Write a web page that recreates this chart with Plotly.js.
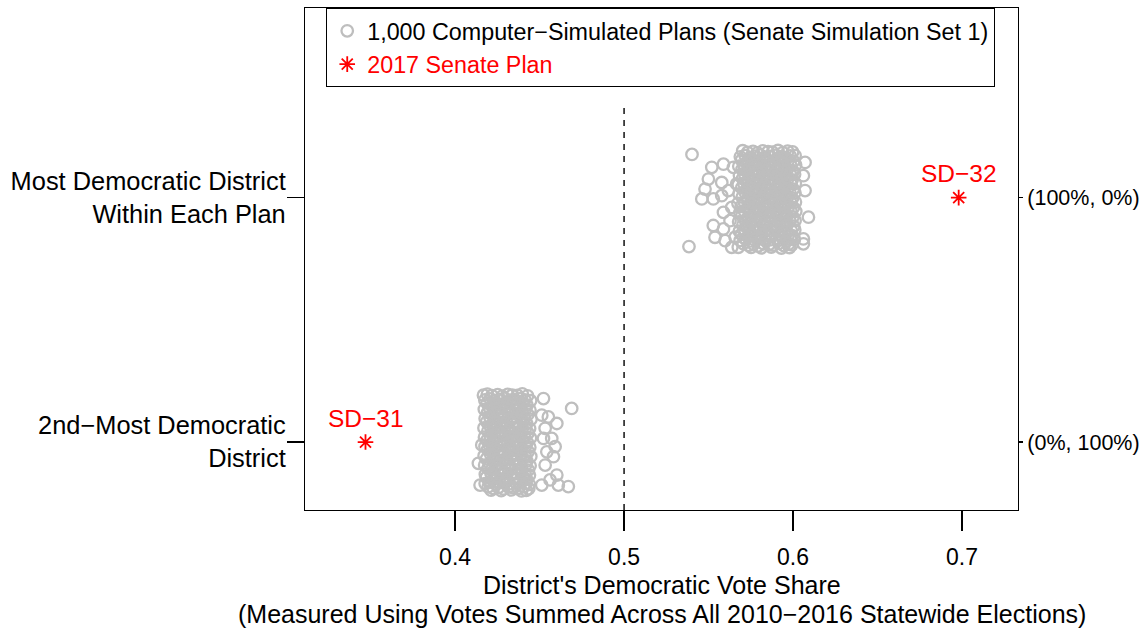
<!DOCTYPE html>
<html>
<head>
<meta charset="utf-8">
<script src="https://cdn.plot.ly/plotly-3.0.1.min.js"></script>
<style>html,body{margin:0;padding:0;background:#fff;}#chart{width:1145px;height:633px;}</style>
</head>
<body>
<div id="chart"></div>
<script>
// ---- Data ----
// Tick values / labels
const xTicks = [0.4, 0.5, 0.6, 0.7];
const categoryPos = [1, 2];
const categoryLabels = ['2nd\u2212Most Democratic<br>District', 'Most Democratic District<br>Within Each Plan'];
const seatLabels = ['(0%, 100%)', '(100%, 0%)'];

// 2017 Senate plan
const planShare = [0.698, 0.347];
const planPos = [2, 1];
const planLabels = ['SD\u221232', 'SD\u221231'];

// Simulated plans: most Democratic district (vote share, jittered vertical position)
const mostDemShare = [
.5702,.5731,.5763,.5789,.5821,.5852,.5878,.5911,.5939,.5968,.5997,
.5688,.5716,.5748,.5777,.5806,.5836,.5865,.5893,.5925,.5954,.5983,.6012,
.5695,.5729,.5758,.5791,.5818,.5849,.5881,.5907,.5936,.5971,.6003,
.5679,.5711,.5744,.5772,.5803,.5833,.5861,.5896,.5922,.5951,.5986,.6015,
.5698,.5726,.5761,.5786,.5815,.5846,.5874,.5909,.5941,.5965,.5998,
.5683,.5714,.5741,.5775,.5801,.5838,.5866,.5891,.5927,.5956,.5984,.6009,
.5701,.5733,.5759,.5788,.5823,.5851,.5879,.5912,.5938,.5967,.5995,
.5676,.5709,.5746,.5771,.5807,.5832,.5863,.5897,.5924,.5953,.5987,.6013,
.5696,.5727,.5762,.5792,.5816,.5848,.5876,.5906,.5942,.5969,.6001,
.5681,.5717,.5743,.5776,.5804,.5835,.5868,.5894,.5921,.5958,.5982,.6011,
.5699,.5732,.5757,.5787,.5824,.5853,.5877,.5913,.5937,.5966,.5996,
.5674,.5712,.5745,.5773,.5802,.5839,.5864,.5892,.5928,.5955,.5985,.6014,
.5693,.5728,.5764,.5789,.5817,.5847,.5882,.5908,.5935,.5972,.6002,
.5685,.5713,.5742,.5778,.5808,.5834,.5862,.5898,.5926,.5952,.5988,.6016,
.5697,.5734,.5756,.5793,.5819,.5854,.5875,.5905,.5943,.5964,.5999,
.5678,.5718,.5747,.5774,.5805,.5837,.5869,.5895,.5923,.5957,.5981,.6012,
.5703,.5725,.5765,.5785,.5825,.5844,.5883,.5904,.5944,.5963,.6004,
.5682,.5715,.5740,.5779,.5809,.5831,.5867,.5899,.5929,.5951,.5989,.6010,
.5694,.5735,.5755,.5794,.5814,.5855,.5873,.5914,.5934,.5973,.5994,
.5687,.5719,.5749,.5771,.5811,.5836,.5861,.5901,.5921,.5959,.5986,.6008,
.5705,.5736,.5766,.5795,.5826,.5857,.5884,.5916,.5946,.5974,.5993,
.5752,.5812,.5871,.5931,.5979,
.5402,.5384,
.5519,.5588,.5647,.5499,.5578,.5479,.5460,.5528,.5578,.5617,.5637,.5588,.5627,.5528,.5588,.5538,.5598,.5637,.5666,.5657,.5676,
.6091,.6061,.6071,.6061,.6071,.6061
];
const mostDemJitter = [
2.192,2.185,2.189,2.183,2.191,2.188,2.186,2.193,2.184,2.190,2.187,
2.167,2.172,2.165,2.170,2.174,2.166,2.169,2.173,2.168,2.164,2.171,2.172,
2.154,2.147,2.151,2.145,2.153,2.150,2.148,2.155,2.146,2.152,2.149,
2.129,2.134,2.127,2.132,2.136,2.128,2.131,2.135,2.130,2.126,2.133,2.134,
2.116,2.109,2.113,2.107,2.115,2.112,2.110,2.117,2.108,2.114,2.111,
2.091,2.096,2.089,2.094,2.098,2.090,2.093,2.097,2.092,2.088,2.095,2.096,
2.078,2.071,2.075,2.069,2.077,2.074,2.072,2.079,2.070,2.076,2.073,
2.053,2.058,2.051,2.056,2.060,2.052,2.055,2.059,2.054,2.050,2.057,2.058,
2.040,2.033,2.037,2.031,2.039,2.036,2.034,2.041,2.032,2.038,2.035,
2.015,2.020,2.013,2.018,2.022,2.014,2.017,2.021,2.016,2.012,2.019,2.020,
2.002,1.995,1.999,1.993,2.001,1.998,1.996,2.003,1.994,2.000,1.997,
1.977,1.982,1.975,1.980,1.984,1.976,1.979,1.983,1.978,1.974,1.981,1.982,
1.964,1.957,1.961,1.955,1.963,1.960,1.958,1.965,1.956,1.962,1.959,
1.939,1.944,1.937,1.942,1.946,1.938,1.941,1.945,1.940,1.936,1.943,1.944,
1.926,1.919,1.923,1.917,1.925,1.922,1.920,1.927,1.918,1.924,1.921,
1.901,1.906,1.899,1.904,1.908,1.900,1.903,1.907,1.902,1.898,1.905,1.906,
1.888,1.881,1.885,1.879,1.887,1.884,1.882,1.889,1.880,1.886,1.883,
1.863,1.868,1.861,1.866,1.870,1.862,1.865,1.869,1.864,1.860,1.867,1.868,
1.850,1.843,1.847,1.841,1.849,1.846,1.844,1.851,1.842,1.848,1.845,
1.825,1.830,1.823,1.828,1.832,1.824,1.827,1.831,1.826,1.822,1.829,1.830,
1.812,1.805,1.809,1.803,1.811,1.808,1.806,1.813,1.804,1.810,1.807,
1.797,1.795,1.798,1.794,1.796,
2.177,1.800,
2.124,2.137,2.124,2.076,2.062,2.035,1.995,1.995,2.008,2.029,1.960,1.940,1.906,1.886,1.872,1.838,1.824,1.797,2.056,1.838,1.797,
1.920,1.831,2.144,2.090,2.029,1.811
];

// Simulated plans: 2nd-most Democratic district
const secondDemShare = [
.4191,.4218,.4252,.4279,.4311,.4338,.4369,.4398,.4429,
.4176,.4207,.4233,.4266,.4293,.4327,.4354,.4386,.4413,.4447,
.4189,.4221,.4248,.4282,.4308,.4341,.4367,.4401,.4426,
.4173,.4204,.4237,.4263,.4297,.4323,.4358,.4383,.4416,.4443,
.4193,.4219,.4251,.4277,.4313,.4336,.4371,.4397,.4431,
.4178,.4206,.4236,.4268,.4291,.4328,.4352,.4388,.4411,.4449,
.4187,.4223,.4246,.4283,.4306,.4342,.4366,.4403,.4424,
.4171,.4209,.4232,.4267,.4296,.4321,.4357,.4381,.4418,.4441,
.4194,.4217,.4253,.4276,.4312,.4337,.4372,.4396,.4432,
.4174,.4208,.4238,.4264,.4298,.4326,.4353,.4387,.4412,.4446,
.4188,.4222,.4249,.4281,.4309,.4343,.4368,.4399,.4427,
.4177,.4203,.4234,.4269,.4292,.4324,.4359,.4384,.4417,.4442,
.4192,.4216,.4254,.4278,.4314,.4335,.4373,.4395,.4433,
.4172,.4211,.4231,.4265,.4294,.4329,.4351,.4389,.4414,.4448,
.4186,.4224,.4247,.4284,.4307,.4344,.4364,.4402,.4425,
.4175,.4205,.4239,.4262,.4299,.4322,.4356,.4382,.4419,.4444,
.4195,.4215,.4255,.4275,.4315,.4334,.4374,.4394,.4434,
.4179,.4212,.4235,.4271,.4295,.4331,.4355,.4391,.4415,.4440,
.4185,.4225,.4245,.4285,.4305,.4345,.4363,.4404,.4423,
.4178,.4202,.4241,.4261,.4301,.4321,.4361,.4381,.4420,.4439,
.4196,.4226,.4256,.4286,.4316,.4346,.4376,.4406,.4436,
.4213,.4273,.4333,.4393,.4421,
.4690,.4523,.4552,.4602,.4533,.4572,.4592,.4543,.4582,.4533,.4602,.4562,.4611,.4670,.4513,.4523,.4513,
.4138,.4148,.4158,.4168
];
const secondDemJitter = [
1.196,1.190,1.194,1.188,1.195,1.192,1.191,1.197,1.189,
1.172,1.177,1.170,1.175,1.179,1.171,1.174,1.178,1.173,1.169,
1.159,1.152,1.156,1.150,1.158,1.155,1.153,1.160,1.151,
1.134,1.139,1.132,1.137,1.141,1.133,1.136,1.140,1.135,1.131,
1.121,1.114,1.118,1.112,1.120,1.117,1.115,1.122,1.113,
1.096,1.101,1.094,1.099,1.103,1.095,1.098,1.102,1.097,1.093,
1.083,1.076,1.080,1.074,1.082,1.079,1.077,1.084,1.075,
1.058,1.063,1.056,1.061,1.065,1.057,1.060,1.064,1.059,1.055,
1.045,1.038,1.042,1.036,1.044,1.041,1.039,1.046,1.037,
1.020,1.025,1.018,1.023,1.027,1.019,1.022,1.026,1.021,1.017,
1.007,1.000,1.004,0.998,1.006,1.003,1.001,1.008,0.999,
0.982,0.987,0.980,0.985,0.989,0.981,0.984,0.988,0.983,0.979,
0.969,0.962,0.966,0.960,0.968,0.965,0.963,0.970,0.961,
0.944,0.949,0.942,0.947,0.951,0.943,0.946,0.950,0.945,0.941,
0.931,0.924,0.928,0.922,0.930,0.927,0.925,0.932,0.923,
0.906,0.911,0.904,0.909,0.913,0.905,0.908,0.912,0.907,0.903,
0.893,0.886,0.890,0.884,0.892,0.889,0.887,0.894,0.885,
0.868,0.873,0.866,0.871,0.875,0.867,0.870,0.874,0.869,0.865,
0.855,0.848,0.852,0.846,0.854,0.851,0.849,0.856,0.847,
0.830,0.835,0.828,0.833,0.837,0.829,0.832,0.836,0.831,0.827,
0.817,0.810,0.814,0.808,0.816,0.813,0.811,0.818,0.809,
0.803,0.801,0.804,0.800,0.802,
1.1375,1.178,1.103,1.076,1.056,1.015,0.981,0.960,0.940,0.906,0.865,0.845,0.824,0.818,0.824,1.015,1.110,
0.913,0.824,0.988,1.192
];

// ---- Chart ----
const FONT = 'Liberation Sans, Arial, Helvetica, sans-serif';
const GREY = '#BEBEBE';
const RED = '#FF0000';
const yRange = [0.722, 2.776];

const simMarker = {symbol: 'circle-open', size: 11.5, color: GREY, line: {width: 2.3, color: GREY}};

const traces = [
  {
    type: 'scatter', mode: 'markers',
    x: mostDemShare, y: mostDemJitter,
    name: '1,000 Computer\u2212Simulated Plans (Senate Simulation Set 1)',
    legendgroup: 'sim', marker: simMarker, hoverinfo: 'x'
  },
  {
    type: 'scatter', mode: 'markers',
    x: secondDemShare, y: secondDemJitter,
    name: 'sim2', legendgroup: 'sim', showlegend: false,
    marker: simMarker, hoverinfo: 'x'
  },
  {
    type: 'scatter', mode: 'markers',
    x: planShare, y: planPos,
    name: '<span style="color:#FF0000">2017 Senate Plan</span>',
    marker: {symbol: 'asterisk-open', size: 13, color: RED, line: {width: 1.8, color: RED}},
    hoverinfo: 'x'
  },
  {
    type: 'scatter', mode: 'markers',
    x: [], y: [], yaxis: 'y2', showlegend: false, hoverinfo: 'skip'
  }
];

const annotations = planLabels.map((t, i) => ({
  x: planShare[i], y: planPos[i], xref: 'x', yref: 'y',
  text: t, showarrow: false, yshift: 24,
  font: {family: FONT, size: 24.5, color: RED}
})).concat([
  {x: 0.5, y: -0.149, xref: 'paper', yref: 'paper', yanchor: 'middle', showarrow: false,
   text: "District's Democratic Vote Share", font: {family: FONT, size: 25, color: '#000'}},
  {x: 0.5, y: -0.207, xref: 'paper', yref: 'paper', yanchor: 'middle', showarrow: false,
   text: '(Measured Using Votes Summed Across All 2010\u22122016 Statewide Elections)',
   font: {family: FONT, size: 25, color: '#000'}}
]);

const layout = {
  width: 1145, height: 633,
  margin: {l: 305, r: 127, t: 8, b: 123, pad: 0},
  paper_bgcolor: '#fff', plot_bgcolor: '#fff',
  font: {family: FONT, color: '#000'},
  showlegend: true,
  legend: {
    x: 0.0295, y: 1, xanchor: 'left', yanchor: 'top',
    bgcolor: '#fff', bordercolor: '#000', borderwidth: 1.2,
    font: {family: FONT, size: 23.3, color: '#000'},
    tracegroupgap: 0
  },
  xaxis: {
    range: [0.3112, 0.7331], tickvals: xTicks, ticktext: xTicks.map(v => v.toFixed(1)),
    ticks: 'outside', ticklen: 20, tickwidth: 1.2, tickcolor: '#000',
    showline: true, mirror: true, linecolor: '#000', linewidth: 1.2,
    showgrid: false, zeroline: false,
    tickfont: {family: FONT, size: 23, color: '#000'},
    ticklabelstandoff: 6
  },
  yaxis: {
    range: yRange, tickvals: categoryPos, ticktext: categoryLabels,
    ticks: 'outside', ticklen: 17, tickwidth: 1.2, tickcolor: '#000',
    showline: true, mirror: true, linecolor: '#000', linewidth: 1.2,
    showgrid: false, zeroline: false,
    tickfont: {family: FONT, size: 25.4, color: '#000'},
    ticklabelstandoff: -4
  },
  yaxis2: {
    overlaying: 'y', side: 'right', range: yRange,
    tickvals: categoryPos, ticktext: seatLabels,
    ticks: 'outside', ticklen: 4, tickwidth: 1.2, tickcolor: '#000',
    showline: false, showgrid: false, zeroline: false,
    tickfont: {family: FONT, size: 21.5, color: '#000'}
  },
  shapes: [{
    type: 'line', xref: 'x', yref: 'y', x0: 0.5, x1: 0.5, y0: yRange[0], y1: 2.375,
    line: {color: '#000', width: 1.4, dash: '6px,6px'}
  }],
  annotations: annotations
};

Plotly.newPlot('chart', traces, layout, {displayModeBar: false, staticPlot: true});
</script>
</body>
</html>
